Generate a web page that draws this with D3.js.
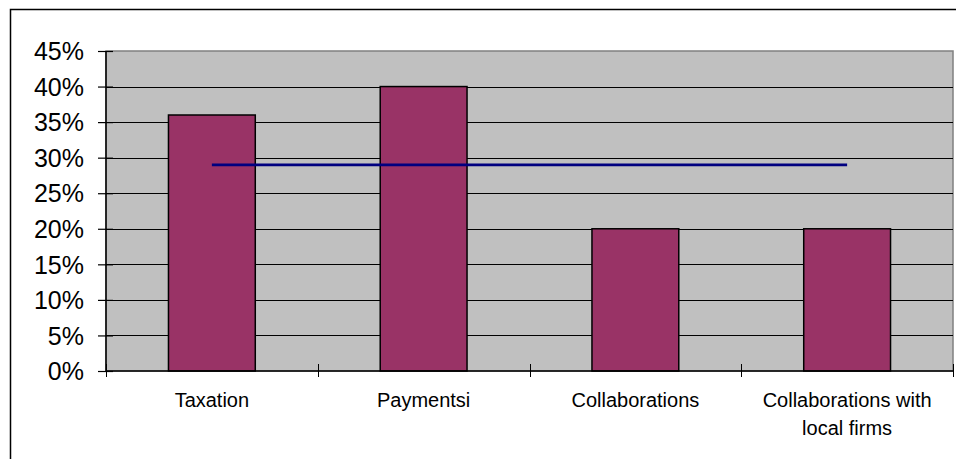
<!DOCTYPE html>
<html><head><meta charset="utf-8">
<script src="https://cdn.jsdelivr.net/npm/d3@7"></script>
<style>html,body{margin:0;padding:0;background:#fff;}svg{display:block;}</style>
</head><body>
<svg id="c" width="956" height="459"></svg>
<script>
const categories = ["Taxation", "Paymentsi", "Collaborations", "Collaborations with|local firms"];
const barValues = [0.36, 0.40, 0.20, 0.20];
const lineValues = [0.29, 0.29, 0.29, 0.29];
const yTicks = [0, 0.05, 0.10, 0.15, 0.20, 0.25, 0.30, 0.35, 0.40, 0.45];

const svg = d3.select("#c");
const L = 106, R = 953, T = 51, B = 371;
const font = "'Liberation Sans', Arial, sans-serif";

svg.append("rect").attr("x", 10.5).attr("y", 9.5).attr("width", 980).attr("height", 480)
  .attr("fill", "#fff").attr("stroke", "#000").attr("stroke-width", 1.5);

const x = d3.scaleBand().domain(categories).range([L, R]).paddingInner(0.59).paddingOuter(0.295);
const xb = d3.scaleBand().domain(categories).range([L, R]);
const y = d3.scaleLinear().domain([0, 0.45]).range([B, T]);

svg.append("rect").attr("x", L).attr("y", T).attr("width", R - L).attr("height", B - T)
  .attr("fill", "#C0C0C0").attr("stroke", "#808080").attr("stroke-width", 1.5);

// gridlines
svg.append("g").selectAll("line").data(yTicks.filter(d => d > 0 && d < 0.45)).join("line")
  .attr("x1", L).attr("x2", R).attr("y1", d => Math.round(y(d)) + 0.5).attr("y2", d => Math.round(y(d)) + 0.5)
  .attr("stroke", "#000").attr("stroke-width", 1);

// bars
svg.append("g").selectAll("rect").data(categories).join("rect")
  .attr("x", d => x(d)).attr("width", x.bandwidth())
  .attr("y", (d, i) => y(barValues[i])).attr("height", (d, i) => B - y(barValues[i]))
  .attr("fill", "#993366").attr("stroke", "#000").attr("stroke-width", 1.5);

// line
const line = d3.line().x((d, i) => xb(categories[i]) + xb.bandwidth() / 2).y(d => y(d));
svg.append("path").datum(lineValues).attr("d", line).attr("fill", "none")
  .attr("stroke", "#000080").attr("stroke-width", 2.8);

// y axis
const yAxis = d3.axisLeft(y).tickValues(yTicks).tickFormat(d3.format(".0%")).tickSize(0).tickPadding(0);
const gy = svg.append("g").attr("transform", `translate(${L},0)`).call(yAxis);
gy.select(".domain").remove();
gy.selectAll(".tick text").attr("x", -22).attr("dy", "0.35em")
  .style("font-family", font).style("font-size", "25px").attr("fill", "#000");
gy.append("line").attr("x1", 0).attr("x2", 0).attr("y1", T).attr("y2", B).attr("stroke", "#000").attr("stroke-width", 1.5);
gy.selectAll(".tick").append("line").attr("x1", -8).attr("x2", 7).attr("y1", 0).attr("y2", 0)
  .attr("stroke", "#000").attr("stroke-width", 1.2);

// x axis
const gx = svg.append("g").attr("transform", `translate(0,${B})`);
gx.append("line").attr("x1", L).attr("x2", R).attr("y1", 0).attr("y2", 0).attr("stroke", "#000").attr("stroke-width", 1.5);
const tickPos = categories.map(c => xb(c)).concat([R]);
gx.selectAll("line.t").data(tickPos).join("line").attr("class", "t")
  .attr("x1", d => Math.round(d) + 0.5).attr("x2", d => Math.round(d) + 0.5).attr("y1", -7).attr("y2", 6)
  .attr("stroke", "#000").attr("stroke-width", 1);
const lbl = gx.selectAll("text").data(categories).join("text")
  .attr("x", d => xb(d) + xb.bandwidth() / 2).attr("y", 36)
  .attr("text-anchor", "middle").style("font-family", font).style("font-size", "20px").attr("fill", "#000");
lbl.each(function(d) {
  const parts = d.split("|");
  const t = d3.select(this);
  parts.forEach((p, i) => t.append("tspan").attr("x", xb(d) + xb.bandwidth() / 2).attr("dy", i === 0 ? 0 : 28).text(p));
});
</script>
</body></html>
